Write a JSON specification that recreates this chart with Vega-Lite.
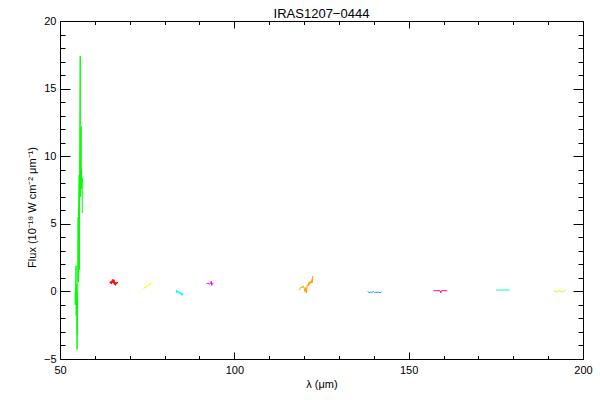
{
  "$schema": "https://vega.github.io/schema/vega-lite/v6.json",
  "autosize": "none",
  "padding": {"left": 60, "top": 21, "right": 17, "bottom": 41},
  "width": 523,
  "height": 338,
  "background": "white",
  "config": {
    "font": "Liberation Sans",
    "view": {"stroke": null},
    "axis": {
      "labelFont": "Liberation Sans", "labelFontSize": 11, "labelColor": "black",
      "titleFont": "Liberation Sans", "titleFontSize": 11, "titleColor": "black", "titleFontWeight": "normal",
      "domainColor": "black", "tickColor": "black", "grid": false, "tickWidth": 1, "domainWidth": 1
    }
  },
  "title": {"text": "IRAS1207−0444", "font": "Liberation Sans", "fontSize": 13, "fontWeight": "normal", "color": "black", "offset": -6},
  "data": {"values": [
    {"seg": "a", "lam": 54.35, "flux": 0.0},
    {"seg": "a", "lam": 54.4, "flux": -1.0},
    {"seg": "a", "lam": 54.45, "flux": 0.0},
    {"seg": "a", "lam": 54.6, "flux": 1.9},
    {"seg": "a", "lam": 54.65, "flux": -1.8},
    {"seg": "a", "lam": 54.75, "flux": 0.5},
    {"seg": "a", "lam": 54.9, "flux": -4.3},
    {"seg": "a", "lam": 54.95, "flux": -0.5},
    {"seg": "a", "lam": 55.0, "flux": -3.2},
    {"seg": "a", "lam": 55.2, "flux": 5.5},
    {"seg": "a", "lam": 55.25, "flux": 0.7},
    {"seg": "a", "lam": 55.3, "flux": 5.3},
    {"seg": "a", "lam": 55.5, "flux": 8.6},
    {"seg": "a", "lam": 55.55, "flux": 1.6},
    {"seg": "a", "lam": 55.6, "flux": 8.0},
    {"seg": "a", "lam": 55.8, "flux": 17.4},
    {"seg": "a", "lam": 55.85, "flux": 7.0},
    {"seg": "a", "lam": 56.05, "flux": 12.2},
    {"seg": "a", "lam": 56.1, "flux": 7.8},
    {"seg": "a", "lam": 56.15, "flux": 9.0},
    {"seg": "a", "lam": 56.2, "flux": 7.6},
    {"seg": "a", "lam": 56.35, "flux": 8.4},
    {"seg": "a", "lam": 56.4, "flux": 5.8},

    {"seg": "b", "lam": 64.3, "flux": 0.7},
    {"seg": "b", "lam": 64.45, "flux": 0.6},
    {"seg": "b", "lam": 64.6, "flux": 0.75},
    {"seg": "b", "lam": 64.8, "flux": 0.55},
    {"seg": "b", "lam": 64.9, "flux": 0.8},
    {"seg": "b", "lam": 65.05, "flux": 0.65},
    {"seg": "b", "lam": 65.2, "flux": 0.9},
    {"seg": "b", "lam": 65.35, "flux": 0.6},
    {"seg": "b", "lam": 65.5, "flux": 0.85},
    {"seg": "b", "lam": 65.65, "flux": 0.5},
    {"seg": "b", "lam": 65.8, "flux": 0.7},
    {"seg": "b", "lam": 65.95, "flux": 0.45},
    {"seg": "b", "lam": 66.1, "flux": 0.65},
    {"seg": "b", "lam": 66.25, "flux": 0.55},
    {"seg": "b", "lam": 66.4, "flux": 0.7},
    {"seg": "b", "lam": 66.6, "flux": 0.6},

    {"seg": "c", "lam": 74.0, "flux": 0.15},
    {"seg": "c", "lam": 74.2, "flux": 0.3},
    {"seg": "c", "lam": 74.4, "flux": 0.25},
    {"seg": "c", "lam": 74.6, "flux": 0.35},
    {"seg": "c", "lam": 74.8, "flux": 0.3},
    {"seg": "c", "lam": 75.0, "flux": 0.45},
    {"seg": "c", "lam": 75.2, "flux": 0.4},
    {"seg": "c", "lam": 75.4, "flux": 0.5},
    {"seg": "c", "lam": 75.6, "flux": 0.45},
    {"seg": "c", "lam": 75.8, "flux": 0.6},
    {"seg": "c", "lam": 76.0, "flux": 0.55},
    {"seg": "c", "lam": 76.2, "flux": 0.65},

    {"seg": "d", "lam": 83.4, "flux": 0.1},
    {"seg": "d", "lam": 83.5, "flux": -0.1},
    {"seg": "d", "lam": 83.6, "flux": 0.05},
    {"seg": "d", "lam": 83.8, "flux": -0.1},
    {"seg": "d", "lam": 84.0, "flux": 0.0},
    {"seg": "d", "lam": 84.2, "flux": -0.15},
    {"seg": "d", "lam": 84.4, "flux": -0.05},
    {"seg": "d", "lam": 84.6, "flux": -0.2},
    {"seg": "d", "lam": 84.8, "flux": -0.1},
    {"seg": "d", "lam": 85.0, "flux": -0.3},
    {"seg": "d", "lam": 85.2, "flux": -0.15},
    {"seg": "d", "lam": 85.3, "flux": -0.2},

    {"seg": "e", "lam": 92.0, "flux": 0.55},
    {"seg": "e", "lam": 92.4, "flux": 0.6},
    {"seg": "e", "lam": 92.8, "flux": 0.55},
    {"seg": "e", "lam": 93.2, "flux": 0.6},
    {"seg": "e", "lam": 93.4, "flux": 0.75},
    {"seg": "e", "lam": 93.5, "flux": 0.45},
    {"seg": "e", "lam": 93.6, "flux": 0.6},
    {"seg": "e", "lam": 93.8, "flux": 0.55},
    {"seg": "e", "lam": 94.0, "flux": 0.6},

    {"seg": "f", "lam": 118.6, "flux": 0.1},
    {"seg": "f", "lam": 118.9, "flux": 0.2},
    {"seg": "f", "lam": 119.2, "flux": 0.35},
    {"seg": "f", "lam": 119.5, "flux": 0.25},
    {"seg": "f", "lam": 119.8, "flux": 0.4},
    {"seg": "f", "lam": 120.1, "flux": 0.2},
    {"seg": "f", "lam": 120.3, "flux": -0.05},
    {"seg": "f", "lam": 120.5, "flux": 0.3},
    {"seg": "f", "lam": 120.7, "flux": -0.1},
    {"seg": "f", "lam": 120.9, "flux": 0.5},
    {"seg": "f", "lam": 121.2, "flux": 0.4},
    {"seg": "f", "lam": 121.4, "flux": 0.7},
    {"seg": "f", "lam": 121.6, "flux": 0.5},
    {"seg": "f", "lam": 121.8, "flux": 0.75},
    {"seg": "f", "lam": 122.0, "flux": 0.6},
    {"seg": "f", "lam": 122.3, "flux": 0.9},
    {"seg": "f", "lam": 122.4, "flux": 0.65},
    {"seg": "f", "lam": 122.5, "flux": 1.15},

    {"seg": "g", "lam": 138.3, "flux": 0.0},
    {"seg": "g", "lam": 138.6, "flux": -0.1},
    {"seg": "g", "lam": 139.0, "flux": -0.05},
    {"seg": "g", "lam": 139.4, "flux": -0.1},
    {"seg": "g", "lam": 139.8, "flux": 0.0},
    {"seg": "g", "lam": 140.2, "flux": -0.1},
    {"seg": "g", "lam": 140.6, "flux": -0.05},
    {"seg": "g", "lam": 141.0, "flux": -0.1},
    {"seg": "g", "lam": 141.4, "flux": -0.05},
    {"seg": "g", "lam": 141.8, "flux": -0.1},
    {"seg": "g", "lam": 142.2, "flux": -0.05},

    {"seg": "h", "lam": 157.1, "flux": 0.05},
    {"seg": "h", "lam": 158.0, "flux": 0.05},
    {"seg": "h", "lam": 159.0, "flux": 0.05},
    {"seg": "h", "lam": 159.2, "flux": -0.1},
    {"seg": "h", "lam": 159.4, "flux": 0.05},
    {"seg": "h", "lam": 160.2, "flux": 0.05},
    {"seg": "h", "lam": 161.1, "flux": 0.05},

    {"seg": "i", "lam": 175.1, "flux": 0.1},
    {"seg": "i", "lam": 176.5, "flux": 0.1},
    {"seg": "i", "lam": 177.5, "flux": 0.1},
    {"seg": "i", "lam": 178.9, "flux": 0.1},

    {"seg": "j", "lam": 191.7, "flux": 0.05},
    {"seg": "j", "lam": 192.2, "flux": 0.0},
    {"seg": "j", "lam": 192.6, "flux": -0.05},
    {"seg": "j", "lam": 193.0, "flux": 0.05},
    {"seg": "j", "lam": 193.6, "flux": 0.0},
    {"seg": "j", "lam": 194.1, "flux": -0.05},
    {"seg": "j", "lam": 194.5, "flux": 0.05},
    {"seg": "j", "lam": 195.0, "flux": 0.05}
  ]},
  "layer": [
    {
      "mark": {"type": "line", "strokeWidth": 1, "clip": true},
      "encoding": {
        "x": {"field": "lam", "type": "quantitative",
              "scale": {"domain": [50, 200], "nice": false, "zero": false},
              "axis": {"orient": "bottom", "values": [50, 100, 150, 200], "tickSize": -7, "labelPadding": 12, "labelFlush": false, "labelOverlap": false, "title": "λ (μm)", "titlePadding": 3, "domain": true}},
        "y": {"field": "flux", "type": "quantitative",
              "scale": {"domain": [-5, 20], "nice": false, "zero": false},
              "axis": {"orient": "left", "values": [-5, 0, 5, 10, 15, 20], "tickSize": -10, "labelPadding": 14, "labelFlush": false, "labelOverlap": false, "title": "Flux (10⁻¹⁸ W cm⁻² μm⁻¹)", "titlePadding": 6, "titleY": 186, "domain": true}},
        "color": {"field": "seg", "type": "nominal", "legend": null,
                  "scale": {"domain": ["a","b","c","d","e","f","g","h","i","j"],
                            "range": ["#00ff00","#ff0000","#ffff00","#00ffff","#ff00ff","#ffa000","#1e90ff","#ff0090","#00ffaa","#ccff00"]}}
      }
    },
    {
      "mark": {"type": "point", "opacity": 0},
      "encoding": {
        "x": {"field": "lam", "type": "quantitative",
              "axis": {"orient": "bottom", "values": [60,70,80,90,110,120,130,140,160,170,180,190], "tickSize": -3.5, "labels": false, "domain": false, "title": null}},
        "y": {"field": "flux", "type": "quantitative",
              "axis": {"orient": "left", "values": [-4,-3,-2,-1,1,2,3,4,6,7,8,9,11,12,13,14,16,17,18,19], "tickSize": -5, "labels": false, "domain": false, "title": null}}
      }
    },
    {
      "mark": {"type": "point", "opacity": 0},
      "encoding": {
        "x": {"field": "lam", "type": "quantitative",
              "axis": {"orient": "top", "values": [50, 100, 150, 200], "tickSize": -7, "labels": false, "domain": true, "title": null}},
        "y": {"field": "flux", "type": "quantitative",
              "axis": {"orient": "right", "values": [-5, 0, 5, 10, 15, 20], "tickSize": -10, "labels": false, "domain": true, "title": null}}
      }
    },
    {
      "mark": {"type": "point", "opacity": 0},
      "encoding": {
        "x": {"field": "lam", "type": "quantitative",
              "axis": {"orient": "top", "values": [60,70,80,90,110,120,130,140,160,170,180,190], "tickSize": -3.5, "labels": false, "domain": false, "title": null}},
        "y": {"field": "flux", "type": "quantitative",
              "axis": {"orient": "right", "values": [-4,-3,-2,-1,1,2,3,4,6,7,8,9,11,12,13,14,16,17,18,19], "tickSize": -5, "labels": false, "domain": false, "title": null}}
      }
    }
  ],
  "resolve": {"axis": {"x": "independent", "y": "independent"}}
}
